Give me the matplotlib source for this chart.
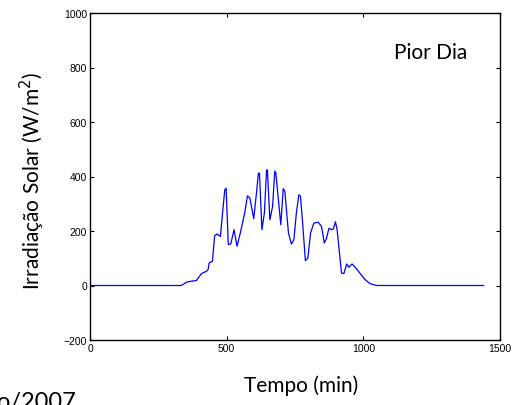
import matplotlib
matplotlib.use("Agg")
import matplotlib.pyplot as plt

# Data (time in minutes, irradiance in W/m^2)
tempo = [0, 334, 353, 365, 389, 408, 426, 432, 436, 448, 456, 465, 477, 485, 493, 498,
         506, 515, 527, 538, 550, 566, 576, 585, 599, 609, 616, 620, 629, 638, 646, 649,
         658, 668, 676, 680, 698, 707, 713, 726, 737, 746, 755, 764, 770, 777, 788, 797,
         807, 819, 835, 847, 857, 865, 874, 884, 890, 898, 904, 914, 920, 929, 939, 947,
         959, 972, 987, 1006, 1024, 1048, 1440]
irradiacao = [0, 0, 12, 15, 18, 44, 52, 58, 83, 89, 183, 189, 180, 266, 351, 357,
              150, 152, 205, 144, 193, 266, 329, 321, 245, 339, 412, 412, 205, 266, 424, 424,
              241, 290, 420, 412, 223, 356, 345, 193, 152, 168, 266, 333, 327, 241, 91, 101,
              193, 229, 232, 217, 156, 172, 210, 205, 207, 234, 205, 107, 46, 44, 79, 67,
              79, 65, 46, 22, 7, 0, 0]
xticks = [0, 500, 1000, 1500]
yticks = [-200, 0, 200, 400, 600, 800, 1000]

W, H = 517, 406
fig = plt.figure(figsize=(W / 100, H / 100), dpi=100)
ax = fig.add_axes([90 / W, 1 - 341 / H, 410 / W, 327 / H])
ax.plot(tempo, irradiacao, color=(0, 0, 1), lw=0.9)
ax.set_xlim(0, 1500)
ax.set_ylim(-200, 1000)
ax.set_xticks(xticks)
ax.set_yticks(yticks)
ax.tick_params(direction="in", top=True, right=True, length=3, width=0.8,
               labelsize=7.5, pad=2)
for lab in ax.get_xticklabels() + ax.get_yticklabels():
    lab.set_family("Liberation Sans")
for s in ax.spines.values():
    s.set_linewidth(1.0)

calib = ["Lato", "DejaVu Sans"]
ax.text(0.919, 0.881, "Pior Dia", transform=ax.transAxes, ha="right", va="center",
        fontsize=15, family=calib)
fig.text(301 / W, 1 - 386 / H, "Tempo (min)", ha="center", va="center",
         fontsize=15, family=calib)
fig.text(32 / W, 1 - 181 / H, "Irradiação Solar (W/m$^2$)", ha="center", va="center",
         rotation=90, fontsize=15, family=calib)
fig.text(-3 / W, 1 - 392 / H, "o/2007", ha="left", va="top", fontsize=17,
         family=calib)

fig.savefig("out.png", dpi=100)
